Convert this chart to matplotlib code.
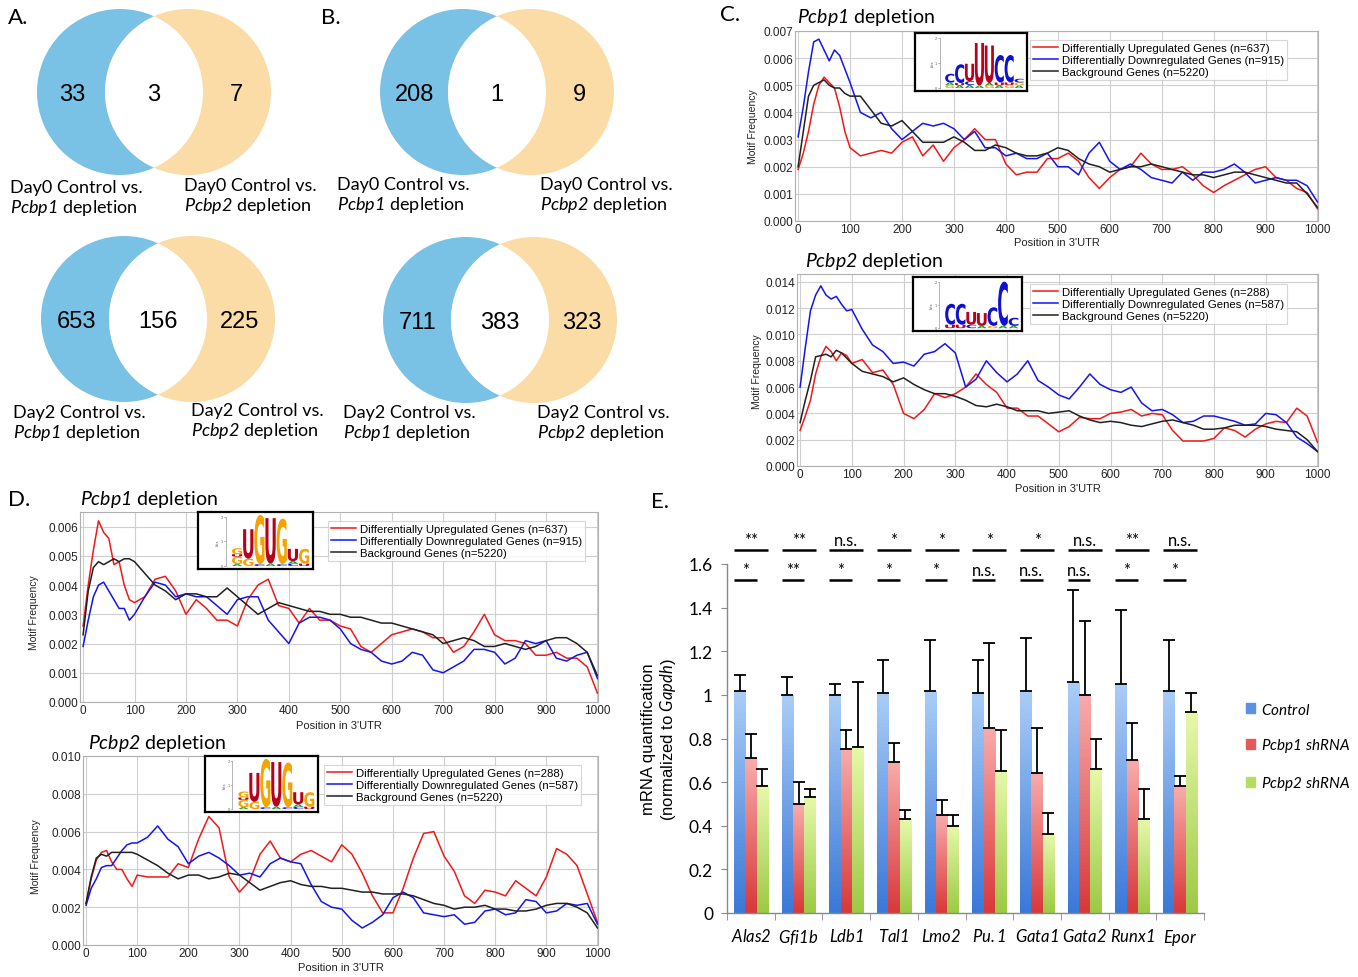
import numpy as np
import matplotlib
matplotlib.use("Agg")
import matplotlib.pyplot as plt
from matplotlib.patches import Circle, PathPatch, Patch
from matplotlib.textpath import TextPath
from matplotlib.font_manager import FontProperties
from matplotlib.transforms import Affine2D
from matplotlib.colors import LinearSegmentedColormap

# every $...$ segment in this figure is an italic gene name
plt.rcParams['mathtext.fontset'] = 'custom'
plt.rcParams['mathtext.rm'] = 'Lato:italic'
plt.rcParams['mathtext.it'] = 'Lato:italic'

W, H = 1358, 978
HEAD = 'Lato'
ARIAL = 'Liberation Sans'

# ---- Venn counts (left only, overlap, right only)
venn_A_day0 = [33, 3, 7]
venn_A_day2 = [653, 156, 225]
venn_B_day0 = [208, 1, 9]
venn_B_day2 = [711, 383, 323]

# ---- motif frequency profiles (x1e-3) along 3'UTR position
pos = [0, 10, 20, 30, 40, 50, 60, 70, 80, 90, 100] + list(range(120, 1001, 20))

c1_up = [1.9, 2.5, 3.3, 4.3, 5.0, 5.3, 5.1, 4.9, 4.2, 3.3, 2.7,
         2.4, 2.5, 2.6, 2.5, 2.9, 3.1, 2.4, 2.8, 2.2, 2.7, 3.0, 3.4, 3.0, 3.0, 2.1,
         1.7, 1.8, 1.8, 2.3, 2.3, 2.5, 2.2, 1.6, 1.2, 1.6, 1.9, 2.0, 2.5, 2.1, 1.9,
         1.9, 2.0, 1.7, 1.3, 1.05, 1.3, 1.5, 1.7, 1.9, 2.0, 1.6, 1.5, 1.2, 1.05, 0.45]
c1_down = [3.1, 4.2, 5.5, 6.6, 6.7, 6.3, 5.9, 6.3, 6.1, 5.6, 5.1,
           4.0, 3.8, 4.0, 3.4, 3.0, 3.3, 3.6, 3.5, 3.6, 3.4, 3.0, 3.3, 2.7, 2.7, 2.4,
           2.5, 2.3, 2.3, 2.5, 2.0, 2.0, 1.7, 2.5, 2.9, 2.2, 1.9, 2.1, 1.9, 1.6, 1.5,
           1.4, 1.8, 1.5, 1.8, 1.8, 1.9, 2.1, 1.8, 1.4, 1.5, 1.6, 1.5, 1.5, 1.3, 0.7]
c1_bg = [2.0, 3.3, 4.6, 5.0, 5.1, 5.2, 5.0, 4.9, 4.9, 4.7, 4.6,
         4.6, 4.1, 3.6, 3.5, 3.7, 3.3, 2.9, 2.9, 2.9, 3.1, 2.9, 2.6, 2.6, 2.8, 2.7,
         2.5, 2.4, 2.4, 2.5, 2.7, 2.6, 2.3, 2.1, 2.0, 1.8, 1.9, 2.0, 2.0, 2.1, 2.0,
         1.9, 1.8, 1.7, 1.7, 1.6, 1.7, 1.8, 1.8, 1.7, 1.6, 1.5, 1.4, 1.4, 1.0, 0.5]

c2_up = [2.7, 3.8, 5.0, 7.0, 8.3, 9.1, 8.7, 8.0, 8.6, 8.4, 7.8,
         8.1, 7.1, 7.3, 6.2, 4.0, 3.6, 4.3, 5.5, 5.2, 5.5, 6.0, 7.0, 6.2, 5.6, 4.4,
         4.4, 3.8, 3.8, 3.2, 2.6, 3.0, 3.7, 3.6, 3.6, 4.0, 4.1, 4.3, 3.8, 4.0, 3.9,
         2.7, 1.9, 1.9, 1.9, 2.1, 2.9, 2.7, 2.2, 2.8, 3.2, 3.4, 3.3, 4.4, 3.8, 1.8]
c2_down = [6.0, 9.0, 11.8, 13.0, 13.7, 13.0, 12.7, 12.9, 12.3, 11.8, 11.9,
           10.4, 9.2, 8.7, 7.8, 7.9, 7.6, 8.5, 8.7, 9.3, 8.6, 6.0, 6.6, 8.0, 7.1, 6.4,
           7.0, 8.0, 6.5, 6.0, 5.4, 5.1, 6.0, 7.0, 6.2, 5.8, 5.6, 6.0, 4.8, 4.2, 4.3,
           3.9, 3.3, 3.4, 3.8, 3.8, 3.6, 3.4, 3.1, 3.2, 4.0, 3.9, 3.3, 2.2, 1.7, 1.1]
c2_bg = [3.3, 5.0, 6.5, 8.3, 8.4, 8.5, 8.3, 8.8, 8.6, 8.2, 7.8,
         7.2, 7.0, 6.8, 6.4, 6.7, 6.2, 5.8, 5.5, 5.5, 5.3, 5.0, 4.6, 4.5, 4.7, 4.5,
         4.2, 4.2, 4.2, 4.0, 4.1, 4.2, 3.8, 3.5, 3.3, 3.4, 3.3, 3.1, 3.0, 3.2, 3.4,
         3.5, 3.3, 3.1, 2.8, 2.8, 2.9, 3.1, 3.1, 3.1, 3.0, 2.8, 2.7, 2.6, 2.0, 1.1]

d1_up = [2.6, 4.0, 5.2, 6.2, 5.8, 5.6, 4.7, 4.8, 4.0, 3.5, 3.4,
         3.6, 4.2, 4.3, 3.8, 3.0, 3.5, 3.2, 2.8, 2.8, 2.6, 3.5, 4.0, 4.2, 3.3, 3.2,
         2.7, 3.2, 2.8, 2.8, 2.6, 2.5, 1.9, 1.7, 2.0, 2.3, 2.4, 2.5, 2.4, 2.2, 2.2,
         1.7, 1.9, 2.4, 3.0, 2.3, 2.1, 2.1, 2.0, 1.6, 1.6, 1.7, 1.5, 1.5, 1.2, 0.3]
d1_down = [1.9, 2.8, 3.6, 4.0, 4.1, 3.8, 3.5, 3.2, 3.2, 2.8, 3.0,
           3.6, 4.1, 4.0, 3.6, 3.7, 3.6, 3.6, 3.3, 3.0, 3.5, 3.6, 3.6, 2.8, 2.4, 2.0,
           2.7, 2.9, 2.9, 2.8, 2.5, 2.0, 1.8, 1.7, 1.4, 1.3, 1.4, 1.7, 1.6, 1.1, 1.0,
           1.2, 1.4, 1.8, 1.8, 1.7, 1.3, 1.5, 2.1, 2.0, 2.1, 1.5, 1.4, 1.6, 1.7, 0.8]
d1_bg = [2.3, 3.8, 4.6, 4.8, 4.7, 4.8, 4.9, 4.8, 4.9, 4.9, 4.8,
         4.4, 4.0, 3.8, 3.5, 3.7, 3.7, 3.6, 3.6, 3.9, 3.6, 3.3, 3.0, 3.2, 3.4, 3.3,
         3.2, 3.1, 3.1, 3.0, 3.0, 2.9, 2.9, 2.8, 2.7, 2.7, 2.6, 2.5, 2.4, 2.3, 2.0,
         2.1, 2.2, 2.1, 1.9, 1.9, 2.0, 1.9, 1.8, 1.9, 2.1, 2.2, 2.2, 2.0, 1.7, 0.9]

d2_up = [2.2, 3.5, 4.5, 4.9, 5.0, 4.4, 4.0, 4.0, 3.5, 3.1, 3.7,
         3.6, 3.6, 3.6, 4.3, 4.1, 5.6, 6.8, 6.2, 3.6, 2.8, 3.4, 4.8, 5.5, 4.6, 4.4,
         4.8, 5.0, 4.7, 4.4, 5.3, 4.8, 3.8, 2.6, 1.7, 1.7, 3.0, 4.6, 5.9, 6.0, 4.7,
         3.9, 2.6, 2.2, 2.9, 2.8, 2.6, 3.4, 3.0, 2.6, 3.6, 5.1, 4.8, 4.2, 2.7, 1.2]
d2_down = [2.1, 3.0, 3.5, 4.1, 4.2, 4.2, 4.6, 5.0, 5.3, 5.4, 5.4,
           5.7, 6.3, 5.6, 5.2, 4.3, 4.7, 4.9, 4.6, 4.2, 3.7, 3.8, 3.6, 4.3, 4.6, 4.4,
           4.3, 3.2, 2.3, 2.0, 1.9, 1.3, 0.9, 1.2, 1.6, 2.5, 2.8, 2.5, 1.7, 1.6, 1.5,
           1.6, 1.1, 1.2, 1.8, 1.9, 1.6, 1.7, 2.4, 2.3, 1.7, 1.8, 2.2, 2.1, 2.2, 1.1]
d2_bg = [2.2, 3.6, 4.6, 4.8, 4.7, 4.9, 4.9, 4.9, 4.9, 4.9, 4.8,
         4.5, 4.2, 3.8, 3.5, 3.7, 3.7, 3.5, 3.6, 3.8, 3.7, 3.3, 2.9, 3.1, 3.3, 3.4,
         3.2, 3.1, 3.1, 3.0, 3.0, 2.9, 2.8, 2.8, 2.7, 2.7, 2.7, 2.6, 2.4, 2.2, 2.1,
         1.9, 2.0, 2.0, 2.1, 1.9, 1.9, 1.8, 1.8, 1.9, 2.1, 2.2, 2.2, 2.0, 1.7, 0.9]

labels_p1 = ["Differentially Upregulated Genes (n=637)",
             "Differentially Downregulated Genes (n=915)",
             "Background Genes (n=5220)"]
labels_p2 = ["Differentially Upregulated Genes (n=288)",
             "Differentially Downregulated Genes (n=587)",
             "Background Genes (n=5220)"]

# sequence logos: per position, stacked (letter, bits) bottom to top
logo_c1 = [[('G', 0.12), ('A', 0.1), ('C', 0.35)], [('A', 0.1), ('U', 0.1), ('C', 0.75)],
           [('A', 0.12), ('C', 0.15), ('U', 0.7)], [('A', 0.1), ('U', 1.7)],
           [('G', 0.1), ('A', 0.1), ('U', 1.5)], [('A', 0.1), ('U', 0.12), ('C', 1.1)],
           [('G', 0.12), ('U', 0.1), ('C', 1.1)], [('A', 0.1), ('G', 0.12), ('C', 0.15)]]
logo_c2 = [[('U', 0.15), ('C', 0.9)], [('U', 0.15), ('C', 0.9)],
           [('C', 0.15), ('U', 0.55)], [('A', 0.1), ('U', 0.55)],
           [('G', 0.1), ('C', 0.8)], [('A', 0.1), ('C', 1.9)], [('A', 0.1), ('C', 0.35)]]
logo_d = [[('A', 0.08), ('G', 0.3), ('U', 0.1), ('G', 0.25)], [('G', 0.3), ('U', 1.2)],
          [('C', 0.08), ('G', 2.0)], [('A', 0.1), ('U', 1.85)], [('C', 0.08), ('G', 1.85)],
          [('C', 0.1), ('A', 0.1), ('U', 0.5)], [('U', 0.1), ('G', 0.6)]]
base_colors = {'A': '#10a020', 'C': '#1010d0', 'G': '#f5a300', 'U': '#b8001c'}

# ---- qPCR panel E
genes = ['Alas2', 'Gfi1b', 'Ldb1', 'Tal1', 'Lmo2', 'Pu.1', 'Gata1', 'Gata2', 'Runx1', 'Epor']
control = [1.02, 1.00, 1.00, 1.01, 1.02, 1.01, 1.02, 1.06, 1.05, 1.02]
control_err = [0.07, 0.08, 0.05, 0.15, 0.23, 0.15, 0.24, 0.42, 0.34, 0.23]
pcbp1 = [0.71, 0.50, 0.75, 0.69, 0.45, 0.85, 0.64, 1.00, 0.70, 0.58]
pcbp1_err = [0.11, 0.10, 0.09, 0.09, 0.07, 0.39, 0.21, 0.34, 0.17, 0.05]
pcbp2 = [0.58, 0.53, 0.76, 0.43, 0.40, 0.65, 0.36, 0.66, 0.43, 0.92]
pcbp2_err = [0.08, 0.04, 0.30, 0.04, 0.05, 0.19, 0.10, 0.14, 0.14, 0.09]
sig_pcbp2 = ['**', '**', 'n.s.', '*', '*', '*', '*', 'n.s.', '**', 'n.s.']
sig_pcbp1 = ['*', '**', '*', '*', '*', 'n.s.', 'n.s.', 'n.s.', '*', '*']


def box(x0, y0, x1, y1):
    return [x0 / W, 1 - y1 / H, (x1 - x0) / W, (y1 - y0) / H]


fig = plt.figure(figsize=(W / 100, H / 100), dpi=100)
bg = fig.add_axes([0, 0, 1, 1])
bg.set_xlim(0, W)
bg.set_ylim(H, 0)
bg.axis('off')

# panel letters
for txt, x, y in [('A.', 8, 18), ('B.', 321, 18), ('C.', 720, 15), ('D.', 8, 500), ('E.', 651, 502)]:
    bg.text(x, y, txt, fontsize=16, family=HEAD, va='center', ha='left')

# ---- Venn diagrams
BLUE_V = '#79c2e5'
ORANGE_V = '#fbdba6'


def venn(cx, cy, counts, r=83, d=68):
    lc = (cx - d / 2, cy)
    rc = (cx + d / 2, cy)
    bg.add_patch(Circle(lc, r, fc=BLUE_V, ec='none'))
    right = Circle(rc, r, fc=ORANGE_V, ec='none')
    bg.add_patch(right)
    lens = Circle(lc, r, fc='white', ec='none')
    bg.add_patch(lens)
    lens.set_clip_path(right)
    xs = [cx - d / 2 - 48, cx, cx + d / 2 + 48]
    for x, n in zip(xs, counts):
        bg.text(x, cy + 2, str(n), fontsize=17, family=ARIAL, ha='center', va='center')


def venn_label(x, y, day, gene):
    bg.text(x, y, f"Day{day} Control vs.", fontsize=13, family=HEAD, va='center')
    bg.text(x, y + 20, "$" + gene + "$ depletion", fontsize=13, family=HEAD, va='center')


venn(154, 93, venn_A_day0)
venn(158, 320, venn_A_day2)
venn(497, 93, venn_B_day0)
venn(500, 321, venn_B_day2)
venn_label(10, 188, 0, 'Pcbp1'); venn_label(184, 186, 0, 'Pcbp2')
venn_label(13, 413, 2, 'Pcbp1'); venn_label(191, 411, 2, 'Pcbp2')
venn_label(337, 185, 0, 'Pcbp1'); venn_label(540, 185, 0, 'Pcbp2')
venn_label(343, 413, 2, 'Pcbp1'); venn_label(537, 413, 2, 'Pcbp2')

# ---- motif profile panels
LOGO_FP = FontProperties(family='DejaVu Sans', weight='bold')


def letter(ax, ch, x, y, w, h, color):
    tp = TextPath((0, 0), ch, size=1, prop=LOGO_FP)
    bb = tp.get_extents()
    tr = Affine2D().translate(-bb.x0, -bb.y0).scale(w / bb.width, h / bb.height).translate(x, y)
    ax.add_patch(PathPatch(tr.transform_path(tp), fc=color, ec='none'))


def draw_logo(rect, stacks):
    la = fig.add_axes(box(*rect))
    n = len(stacks)
    la.set_xlim(-3.0, n + 0.3)
    la.set_ylim(-0.12, 2.2)
    la.set_xticks([]); la.set_yticks([])
    for s in la.spines.values():
        s.set_linewidth(1.6)
        s.set_color('black')
    la.plot([-0.5, -0.5], [0, 2], color='#999999', lw=0.5)
    for v in [0, 1, 2]:
        la.plot([-0.65, -0.5], [v, v], color='#999999', lw=0.5)
        la.text(-0.75, v, str(v), fontsize=2.5, ha='right', va='center', color='#555')
    la.text(-1.2, 1.0, 'bits', fontsize=2.5, rotation=90, ha='center', va='center', color='#555')
    for i, stack in enumerate(stacks):
        y = 0.0
        for ch, h in stack:
            letter(la, ch, i + 0.04, y, 0.92, h, base_colors[ch])
            y += h


def profile(rect, ymax, ystep, series, labels, title_xy, gene, logo_rect, logo,
            leg_xy, ylab_xy, xlab_y):
    ax = fig.add_axes(box(*rect))
    x = np.array(pos)
    for vals, col in zip(series, ['#f01818', '#1414f0', '#202020']):
        ax.plot(x, np.array(vals) / 1000.0, color=col, lw=1.1)
    ax.set_xlim(-6, 1001)
    ax.set_ylim(0, ymax)
    ax.set_xticks(np.arange(0, 1001, 100))
    ax.set_yticks(np.arange(0, ymax + 1e-9, ystep))
    ax.yaxis.set_major_formatter(plt.FormatStrFormatter('%.3f'))
    ax.tick_params(length=0, pad=1.5, labelsize=8.5, labelcolor='#222222')
    for lab in ax.get_xticklabels() + ax.get_yticklabels():
        lab.set_family(ARIAL)
    ax.grid(color='#cfcfcf', lw=0.8)
    ax.set_axisbelow(True)
    for s in ax.spines.values():
        s.set_color('#b0b0b0')
        s.set_linewidth(0.8)
    leg = ax.legend(labels, loc='upper right',
                    bbox_to_anchor=(leg_xy[0] / W, 1 - leg_xy[1] / H),
                    bbox_transform=fig.transFigure, frameon=True,
                    fancybox=False, edgecolor='#cccccc', handlelength=2.2,
                    handletextpad=0.3, labelspacing=0.15, borderpad=0.3,
                    prop={'family': ARIAL, 'size': 8.2})
    leg.get_frame().set_linewidth(0.8)
    bg.text(title_xy[0], title_xy[1], "$" + gene + "$ depletion",
            fontsize=14, family=HEAD, va='center')
    bg.text(ylab_xy[0], ylab_xy[1], 'Motif Frequency', fontsize=7.5, family=ARIAL,
            rotation=90, ha='center', va='center', color='#222')
    bg.text((rect[0] + rect[2]) / 2, xlab_y, "Position in 3'UTR", fontsize=8,
            family=ARIAL, ha='center', va='center', color='#222')
    draw_logo(logo_rect, logo)


profile((795, 32, 1318, 222), 0.007, 0.001, [c1_up, c1_down, c1_bg], labels_p1,
        (797, 18), 'Pcbp1', (915, 34, 1027, 92), logo_c1, (1293, 35), (753, 127), 243)
profile((797, 275, 1318, 467), 0.0146, 0.002, [c2_up, c2_down, c2_bg], labels_p2,
        (805, 262), 'Pcbp2', (913, 278, 1022, 332), logo_c2, (1293, 279), (757, 372), 489)
profile((80, 513, 598, 703), 0.0065, 0.001, [d1_up, d1_down, d1_bg], labels_p1,
        (80, 500), 'Pcbp1', (198, 513, 313, 570), logo_d, (591, 516), (34, 613), 726)
profile((83, 757, 598, 946), 0.010, 0.002, [d2_up, d2_down, d2_bg], labels_p2,
        (88, 743), 'Pcbp2', (205, 757, 318, 813), logo_d, (587, 760), (36, 857), 968)

# ---- panel E bars
axe = fig.add_axes(box(727, 565, 1204, 914))
xi = np.arange(len(genes))
bw = 0.237
groups = [
    (control, control_err, -bw, '#3b78d8', '#aacdf6'),
    (pcbp1, pcbp1_err, 0.0, '#d8393a', '#f8abab'),
    (pcbp2, pcbp2_err, bw, '#9dca45', '#e6f8aa'),
]
grad = np.linspace(0, 1, 64).reshape(-1, 1)
for vals, errs, off, dark, light in groups:
    bars = axe.bar(xi + off, vals, bw, color=dark, lw=0, zorder=2)
    cmap = LinearSegmentedColormap.from_list('g', [dark, light])
    for b in bars:
        im = axe.imshow(grad, cmap=cmap, aspect='auto', origin='lower', zorder=2.1,
                        extent=(b.get_x(), b.get_x() + b.get_width(), 0, b.get_height()))
        im.set_clip_path(b)
    axe.errorbar(xi + off, vals, yerr=[np.zeros(len(vals)), errs], fmt='none',
                 ecolor='black', elinewidth=1.3, capsize=4, capthick=1.3, zorder=3)

axe.set_xlim(-0.5, len(genes) - 0.5)
axe.set_ylim(0, 1.6)
axe.set_yticks(np.arange(0, 1.61, 0.2))
axe.set_yticklabels(['0', '0.2', '0.4', '0.6', '0.8', '1', '1.2', '1.4', '1.6'],
                    family=HEAD, fontsize=12.5)
axe.set_xticks(xi)
axe.set_xticklabels(["$" + g + "$" for g in genes], fontsize=12)
axe.set_xticks(np.arange(-0.5, len(genes)), minor=True)
axe.tick_params(axis='x', which='major', length=0, pad=10)
axe.tick_params(axis='x', which='minor', length=5, color='#888888', direction='out')
axe.tick_params(axis='y', length=4, color='#888888', direction='out', pad=6)
for side in ['top', 'right']:
    axe.spines[side].set_visible(False)
for side in ['left', 'bottom']:
    axe.spines[side].set_color('#888888')
    axe.spines[side].set_linewidth(1.0)

# significance marks: upper = control vs Pcbp2, lower = control vs Pcbp1
for i in range(len(genes)):
    axe.plot([i - 1.5 * bw, i + 1.5 * bw], [1.665, 1.665], color='black', lw=1.8,
             clip_on=False, solid_capstyle='butt')
    axe.text(i, 1.675, sig_pcbp2[i], fontsize=12, family=HEAD, ha='center', va='bottom')
    axe.plot([i - 1.5 * bw, i + 0.5 * bw], [1.528, 1.528], color='black', lw=1.8,
             clip_on=False, solid_capstyle='butt')
    axe.text(i - 0.5 * bw, 1.538, sig_pcbp1[i], fontsize=12, family=HEAD, ha='center', va='bottom')

axe.set_ylabel("mRNA quantification\n(normalized to $Gapdh$)",
               family=ARIAL, fontsize=12, labelpad=8, linespacing=1.1)

handles = [Patch(color='#5b90e2'), Patch(color='#e35a5a'), Patch(color='#b6dc62')]
axe.legend(handles, ["$Control$", r"$Pcbp1\ shRNA$", r"$Pcbp2\ shRNA$"],
           loc='center left', bbox_to_anchor=(1232 / W, 1 - 748 / H),
           bbox_transform=fig.transFigure, frameon=False, fontsize=11,
           handlelength=0.6, handleheight=0.6, handletextpad=0.4, labelspacing=1.3)

fig.savefig('out.png', dpi=100)
